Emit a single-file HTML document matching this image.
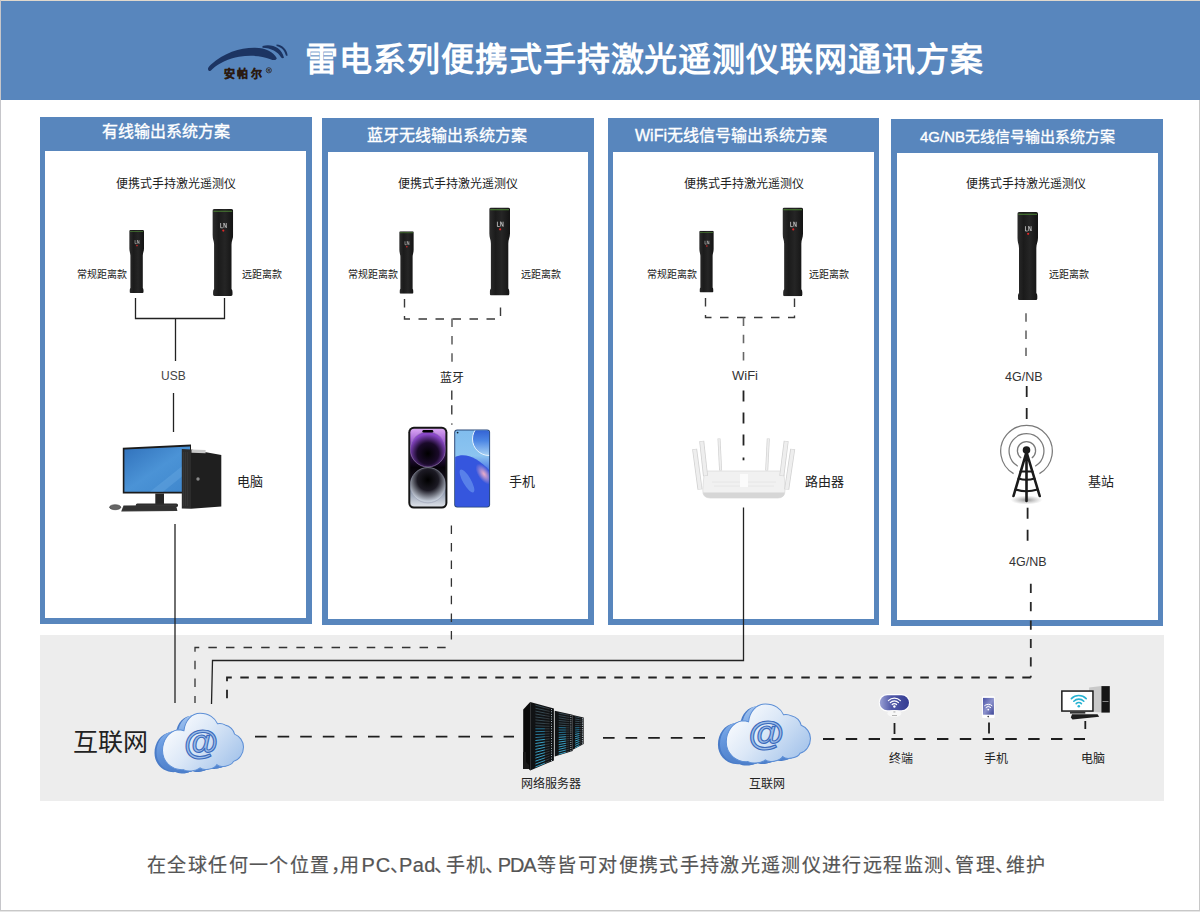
<!DOCTYPE html>
<html lang="zh-CN">
<head>
<meta charset="utf-8">
<style>
html,body{margin:0;padding:0;}
body{width:1200px;height:912px;position:relative;overflow:hidden;background:#fff;font-family:"Liberation Sans",sans-serif;}
.abs{position:absolute;}
#frl{position:absolute;left:0;top:0;width:1px;height:912px;background:#c6c6ca;}
#frt{position:absolute;left:1px;top:0;width:1199px;height:1px;background:#e0d8cc;}
#frr{position:absolute;left:1199px;top:100px;width:1px;height:812px;background:#c8c8c8;}
#frb{position:absolute;left:0;top:910px;width:1200px;height:1px;background:#c8c8c8;}
#frb2{position:absolute;left:0;top:911px;width:1200px;height:1px;background:#e6e6e6;}
#hdr{position:absolute;left:1px;top:1px;width:1199px;height:99px;background:#5886bd;}
#title{position:absolute;left:305px;top:37.5px;font-family:"Liberation Serif",serif;font-weight:bold;font-size:33px;letter-spacing:0.95px;color:#fff;white-space:nowrap;line-height:44px;}
.panel{position:absolute;background:#5886bd;}
.panel .in{position:absolute;background:#fff;}
.ph{position:absolute;color:#fff;font-size:16px;font-weight:normal;-webkit-text-stroke:0.35px #fff;white-space:nowrap;line-height:20px;}
.ph .nb{font-size:15px;letter-spacing:0;}
.t12{position:absolute;font-size:12px;color:#222;white-space:nowrap;line-height:14px;}
.t10{position:absolute;font-size:10px;color:#222;white-space:nowrap;line-height:12px;}
.t13{position:absolute;font-size:13px;color:#222;white-space:nowrap;line-height:16px;}
#band{position:absolute;left:40px;top:635px;width:1124px;height:166px;background:#ededed;}
.ft{position:absolute;top:853px;font-size:19px;letter-spacing:1.36px;color:#555;white-space:nowrap;line-height:26px;-webkit-text-stroke:0.2px #555;}
svg.ov{position:absolute;left:0;top:0;}
</style>
</head>
<body>
<div id="frl"></div><div id="frt"></div><div id="frr"></div><div id="frb"></div><div id="frb2"></div>
<div id="hdr"></div>
<div id="title">雷电系列便携式手持激光遥测仪联网通讯方案</div>

<div class="panel" style="left:40px;top:117px;width:272px;height:507px;"><div class="in" style="left:5px;top:34px;width:261px;height:467px;"></div></div>
<div class="panel" style="left:322px;top:118px;width:272px;height:507px;"><div class="in" style="left:6px;top:34px;width:260px;height:467px;"></div></div>
<div class="panel" style="left:608px;top:118px;width:271px;height:507px;"><div class="in" style="left:5px;top:34px;width:261px;height:467px;"></div></div>
<div class="panel" style="left:891px;top:119px;width:272px;height:507px;"><div class="in" style="left:6px;top:34px;width:261px;height:467px;"></div></div>

<div class="ph" style="left:102px;top:121.5px;">有线输出系统方案</div>
<div class="ph" style="left:367px;top:126px;">蓝牙无线输出系统方案</div>
<div class="ph" style="left:635px;top:126px;">WiFi无线信号输出系统方案</div>
<div class="ph" style="left:920px;top:127px;font-size:15px;"><span class="nb">4G/NB</span>无线信号输出系统方案</div>
<div id="band"></div>


<div class="t12" style="left:116px;top:176.5px;">便携式手持激光遥测仪</div>
<div class="t12" style="left:398px;top:176.5px;">便携式手持激光遥测仪</div>
<div class="t12" style="left:684px;top:176.5px;">便携式手持激光遥测仪</div>
<div class="t12" style="left:966px;top:176.5px;">便携式手持激光遥测仪</div>

<div class="t10" style="left:77px;top:268.5px;">常规距离款</div>
<div class="t10" style="left:242px;top:268.5px;">远距离款</div>
<div class="t10" style="left:348px;top:268.5px;">常规距离款</div>
<div class="t10" style="left:521px;top:268.5px;">远距离款</div>
<div class="t10" style="left:647px;top:268.5px;">常规距离款</div>
<div class="t10" style="left:809px;top:268.5px;">远距离款</div>
<div class="t10" style="left:1049px;top:268.5px;">远距离款</div>

<div class="t12" style="left:161px;top:369px;color:#444;">USB</div>
<div class="t12" style="left:440px;top:370.5px;">蓝牙</div>
<div class="t12" style="left:732px;top:369px;color:#333;font-size:13px;">WiFi</div>
<div class="t12" style="left:1005px;top:370px;color:#333;font-size:12.5px;">4G/NB</div>
<div class="t12" style="left:1009px;top:555px;color:#333;font-size:12.5px;">4G/NB</div>

<div class="t13" style="left:237px;top:474px;">电脑</div>
<div class="t13" style="left:509px;top:474px;">手机</div>
<div class="t13" style="left:805px;top:474px;">路由器</div>
<div class="t13" style="left:1088px;top:474px;">基站</div>

<div class="abs" style="left:73px;top:727px;font-size:25px;color:#222;line-height:30px;">互联网</div>
<div class="t12" style="left:521px;top:776.5px;">网络服务器</div>
<div class="t12" style="left:749px;top:776.5px;">互联网</div>
<div class="t12" style="left:889px;top:752px;">终端</div>
<div class="t12" style="left:984px;top:752px;">手机</div>
<div class="t12" style="left:1081px;top:752px;">电脑</div>

<svg class="ov" width="1200" height="912" viewBox="0 0 1200 912">

<defs>
<linearGradient id="flg" x1="0" x2="1" y1="0" y2="0">
<stop offset="0" stop-color="#2c2c2c"/><stop offset="0.3" stop-color="#1b1b1b"/><stop offset="0.6" stop-color="#252525"/><stop offset="1" stop-color="#131313"/>
</linearGradient>
<symbol id="fl" viewBox="0 0 21 88" preserveAspectRatio="none">
<path d="M1.8 0H19.2Q21 0 21 1.8V26C21 30 19.3 32 19.3 36V81Q20.3 82 20.3 84V86.5Q20.3 88 18.8 88H2.2Q0.7 88 0.7 86.5V84Q0.7 82 1.7 81V36C1.7 32 0 30 0 26V1.8Q0 0 1.8 0Z" fill="url(#flg)"/>
<rect x="1" y="1.8" width="19" height="0.9" fill="#4f8a35"/>
<path d="M8.3 14.2V19H10.6M11.6 19V14.2L14 19V14.2" stroke="#d8d8d8" stroke-width="0.75" fill="none"/>
<circle cx="11" cy="21.8" r="1.1" fill="#e02828"/>
</symbol>
<linearGradient id="scr" x1="0" y1="0" x2="1" y2="1">
<stop offset="0" stop-color="#3172bc"/><stop offset="0.5" stop-color="#4b93d6"/><stop offset="1" stop-color="#3e86cc"/>
</linearGradient>
<linearGradient id="iph" x1="0" y1="0" x2="0" y2="1">
<stop offset="0" stop-color="#d9a6f2"/><stop offset="0.18" stop-color="#9b55d2"/><stop offset="0.36" stop-color="#2a0d44"/><stop offset="0.5" stop-color="#050208"/><stop offset="0.64" stop-color="#15101c"/><stop offset="0.8" stop-color="#8a96aa"/><stop offset="1" stop-color="#dde1e8"/>
</linearGradient>
<linearGradient id="oppo" x1="0" y1="0" x2="0" y2="1">
<stop offset="0" stop-color="#80bdee"/><stop offset="0.33" stop-color="#8cc4f0"/><stop offset="0.5" stop-color="#4f7ce6"/><stop offset="1" stop-color="#2a4ad2"/>
</linearGradient>
<linearGradient id="moon" x1="0" y1="0" x2="0" y2="1">
<stop offset="0" stop-color="#2248c8"/><stop offset="0.55" stop-color="#4c86e4"/><stop offset="1" stop-color="#a8d2f4"/>
</linearGradient>
<radialGradient id="iup" cx="0.5" cy="0.62" r="0.55">
<stop offset="0" stop-color="#000"/><stop offset="0.55" stop-color="#1a0a2a"/><stop offset="1" stop-color="#8a48c8"/>
</radialGradient>
<radialGradient id="ilo" cx="0.5" cy="0.35" r="0.6">
<stop offset="0" stop-color="#000"/><stop offset="0.5" stop-color="#1c1a24"/><stop offset="1" stop-color="#c4ccd8"/>
</radialGradient>
<radialGradient id="pink" cx="0.5" cy="0.5" r="0.5">
<stop offset="0" stop-color="#f6b2c8" stop-opacity="0.95"/><stop offset="1" stop-color="#f6b2c8" stop-opacity="0"/>
</radialGradient>
<radialGradient id="shad" cx="0.5" cy="0.5" r="0.5">
<stop offset="0" stop-color="#777" stop-opacity="0.8"/><stop offset="1" stop-color="#999" stop-opacity="0"/>
</radialGradient>
<linearGradient id="cfront" gradientUnits="userSpaceOnUse" x1="15" y1="5" x2="80" y2="62">
<stop offset="0" stop-color="#ffffff"/><stop offset="0.45" stop-color="#dce8f7"/><stop offset="1" stop-color="#a2c2ea"/>
</linearGradient>
<linearGradient id="cback" gradientUnits="userSpaceOnUse" x1="0" y1="0" x2="0" y2="64">
<stop offset="0" stop-color="#a8c8f0"/><stop offset="0.5" stop-color="#6d9ee2"/><stop offset="1" stop-color="#4a7cc8"/>
</linearGradient>
<symbol id="cloud" viewBox="0 0 90 64" preserveAspectRatio="none">
<path id="cpath" d="M8.6 40.5C8.6 30 15 21 24 19.5C26 19.5 28 19.8 30 20.5C31 10 38 3 46.1 3C55 3 61 8 63.5 13.5C66 13 69 13.5 71 14.7C76 16 79.5 20 80.5 24C85.5 26 89.4 31 89.4 37C89.4 44 85 50 79.4 51.4C77.5 56 66 58.5 62.8 54.7C60 59.5 49 61 46.1 58C42 61.5 33 62 29.4 59.7C18 60.5 8.6 52 8.6 40.5Z" transform="translate(-8 2.5)" fill="#4a7cc8"/>
<path d="M8.6 40.5C8.6 30 15 21 24 19.5C26 19.5 28 19.8 30 20.5C31 10 38 3 46.1 3C55 3 61 8 63.5 13.5C66 13 69 13.5 71 14.7C76 16 79.5 20 80.5 24C85.5 26 89.4 31 89.4 37C89.4 44 85 50 79.4 51.4C77.5 56 66 58.5 62.8 54.7C60 59.5 49 61 46.1 58C42 61.5 33 62 29.4 59.7C18 60.5 8.6 52 8.6 40.5Z" transform="translate(-6 1.9)" fill="url(#cback)"/>
<path d="M8.6 40.5C8.6 30 15 21 24 19.5C26 19.5 28 19.8 30 20.5C31 10 38 3 46.1 3C55 3 61 8 63.5 13.5C66 13 69 13.5 71 14.7C76 16 79.5 20 80.5 24C85.5 26 89.4 31 89.4 37C89.4 44 85 50 79.4 51.4C77.5 56 66 58.5 62.8 54.7C60 59.5 49 61 46.1 58C42 61.5 33 62 29.4 59.7C18 60.5 8.6 52 8.6 40.5Z" transform="translate(-4 1.2)" fill="url(#cback)"/>
<path d="M8.6 40.5C8.6 30 15 21 24 19.5C26 19.5 28 19.8 30 20.5C31 10 38 3 46.1 3C55 3 61 8 63.5 13.5C66 13 69 13.5 71 14.7C76 16 79.5 20 80.5 24C85.5 26 89.4 31 89.4 37C89.4 44 85 50 79.4 51.4C77.5 56 66 58.5 62.8 54.7C60 59.5 49 61 46.1 58C42 61.5 33 62 29.4 59.7C18 60.5 8.6 52 8.6 40.5Z" transform="translate(-2 0.6)" fill="url(#cback)"/>
<path d="M8.6 40.5C8.6 30 15 21 24 19.5C26 19.5 28 19.8 30 20.5C31 10 38 3 46.1 3C55 3 61 8 63.5 13.5C66 13 69 13.5 71 14.7C76 16 79.5 20 80.5 24C85.5 26 89.4 31 89.4 37C89.4 44 85 50 79.4 51.4C77.5 56 66 58.5 62.8 54.7C60 59.5 49 61 46.1 58C42 61.5 33 62 29.4 59.7C18 60.5 8.6 52 8.6 40.5Z" fill="url(#cfront)" stroke="#5d8fd6" stroke-width="1"/>
<text x="47" y="43.5" text-anchor="middle" font-family="Liberation Sans" font-size="35" font-weight="bold" fill="#9dbde8" stroke="#3a6abc" stroke-width="1.1">@</text>
</symbol>
<linearGradient id="tpill" x1="0" y1="0" x2="1" y2="0">
<stop offset="0" stop-color="#9aa0d4"/><stop offset="0.4" stop-color="#5058a8"/><stop offset="1" stop-color="#343c92"/>
</linearGradient>
<linearGradient id="tphone" x1="0" y1="0" x2="1" y2="1">
<stop offset="0" stop-color="#4a52a4"/><stop offset="0.5" stop-color="#8c92cc"/><stop offset="1" stop-color="#3c4496"/>
</linearGradient>
</defs>


<g fill="#1c3462">
<path d="M209 71 C207 69.5 208 67 211 64.5 C224 53 240 47.6 255 47.8 C266 48 273.5 52 276.8 58.2 C276 60.6 273.5 60.4 270.5 59.2 C261 55.6 250 55 239 56.8 C229 58.6 219 63 212.5 69 C211.4 70.4 210.2 71.2 209 71Z"/>
<path d="M262.5 46 C272 43.6 281.5 47.5 284 57.8 C283 58.4 282 58.2 281.2 57.6 C278 51.5 271 48.2 262.5 47.8Z"/>
<path d="M276.5 44.4 C282.5 44.8 287 49.5 287.6 55.4 C287 56 286.2 55.8 285.8 55.2 C284.5 50.2 281 47 276.5 46Z"/>
</g>
<text x="224" y="77.6" font-family="Liberation Sans" font-size="11" font-weight="bold" fill="#2a1a12" stroke="#2a1a12" stroke-width="0.35" letter-spacing="2.4">安帕尔</text>
<circle cx="268.8" cy="70.3" r="2.6" fill="none" stroke="#2a1a12" stroke-width="0.7"/>
<text x="267.4" y="72" font-family="Liberation Sans" font-size="4" font-weight="bold" fill="#2a1a12">R</text>


<g fill="none" stroke="#222" stroke-width="1.3">
<path d="M135.5 298V318.5H224.5V298M175.5 318.5V361"/>
<path d="M173.5 393V432"/>
<path d="M175 524V703"/>
<path d="M743.5 507.5V660.5H212.5L211.5 704"/>
</g>
<g fill="none" stroke="#3a3a3a" stroke-width="1.4" stroke-dasharray="8.5 8.5">
<path d="M404.5 299V319H500.5V299"/>
<path d="M705.5 298V317.5H794.5V298"/>
</g>
<g fill="none" stroke="#666" stroke-width="1.6" stroke-dasharray="8.5 8.8">
<path d="M452 318.6V362"/>
<path d="M743.5 317.5V361"/>
<path d="M1026 313.2V356"/>
</g>
<g fill="none" stroke="#2a2a2a" stroke-width="1.3" stroke-dasharray="9.3 5.6">
<path d="M451.8 390.4V416"/>
</g>
<rect x="451.2" y="423.4" width="1.3" height="1.3" fill="#333"/>
<g fill="none" stroke="#222" stroke-width="1.8" stroke-dasharray="11 11">
<path d="M743.5 390.4V447"/>
<path d="M1026.7 386V420"/>
<path d="M1027.6 507.7V542"/>
</g>
<rect x="742.6" y="457.5" width="1.8" height="2.8" fill="#222"/>
<g fill="none" stroke="#2a2a2a" stroke-width="1.8" stroke-dasharray="9.2 9.2">
<path d="M1030.8 583.7V677.5"/>
</g>
<g fill="none" stroke="#333" stroke-width="1.3" stroke-dasharray="8.5 9.1">
<path d="M451.4 525.4V647.5"/>
<path d="M451.4 647.5H195V703" stroke-dashoffset="11.85"/>
</g>
<g fill="none" stroke="#222" stroke-width="1.8" stroke-dasharray="8.5 8.5">
<path d="M1030.8 677.5H227V705"/>
</g>
<g fill="none" stroke="#1e1e1e" stroke-width="1.8" stroke-dasharray="11.6 11">
<path d="M255 736.7H514"/>
<path d="M603 737.8H706"/>
<path d="M823 739H1085" stroke-dasharray="11.4 11.4"/>
</g>
<g fill="none" stroke="#1e1e1e" stroke-width="1.8">
<path d="M894.5 723V734M989 722.5V733.5M1085.3 721V729"/>
</g>

<use href="#fl" x="129.2" y="230" width="14.8" height="63.0"/>
<use href="#fl" x="212.4" y="209" width="20.8" height="87.0"/>
<use href="#fl" x="399.2" y="231.2" width="14.6" height="62.6"/>
<use href="#fl" x="489.2" y="207.5" width="20.8" height="88.0"/>
<use href="#fl" x="699.2" y="230.8" width="14.6" height="61.7"/>
<use href="#fl" x="782.5" y="207.5" width="20.5" height="88.7"/>
<use href="#fl" x="1017.3" y="212" width="20.7" height="88.0"/>

<g>
<polygon points="122.8,447.8 191,444.4 191,493.5 122.8,493.5" fill="#1b1b1b"/>
<polygon points="124.4,449.6 190,446.6 190,491.8 124.4,491.8" fill="url(#scr)"/>
<polygon points="150,491.8 190,460 190,470 163,491.8" fill="#6fb0e6" opacity="0.35"/>
<rect x="155.3" y="493.5" width="8.7" height="11" fill="#262626"/>
<rect x="135.8" y="503.4" width="42.2" height="3.6" rx="1.6" fill="#2e2e2e"/>
<polygon points="123.5,505.4 176,505 177.4,511 121.2,511.4" fill="#383838"/>
<path d="M124 507H176M123.4 509H176.6" stroke="#222" stroke-width="0.6"/>
<ellipse cx="115.2" cy="507.2" rx="5.6" ry="2.5" fill="#666" stroke="#3a3a3a" stroke-width="0.6"/>
<polygon points="181.8,449 191,449.5 191,508.8 181.8,508.6" fill="#2c2c2c"/>
<path d="M183.6 452V506M185.6 452V506M187.6 452V506" stroke="#3e3e3e" stroke-width="0.6"/>
<polygon points="191,449.5 221.3,455 221.3,506.5 191,508.8" fill="#1f1f1f"/>
<polygon points="191.5,449.5 205.6,450 205.6,453.2 191.5,452.8" fill="#c8c8c8"/>
<circle cx="198" cy="479" r="1.7" fill="#8a8a8a"/>
</g>

<g>
<rect x="408.3" y="426.8" width="39.1" height="81.7" rx="5.5" fill="#151515"/>
<rect x="410.3" y="428.8" width="35.1" height="77.7" rx="3.8" fill="url(#iph)"/>
<clipPath id="ipc"><rect x="410.3" y="428.8" width="35.1" height="77.7" rx="3.8"/></clipPath>
<g clip-path="url(#ipc)">
<circle cx="427.9" cy="449.3" r="17.7" fill="url(#iup)" stroke="#9a86b0" stroke-width="0.6"/>
<circle cx="427.9" cy="485.2" r="17.7" fill="url(#ilo)" stroke="#9aa0b4" stroke-width="0.6"/>
</g>
<rect x="422.4" y="429.9" width="10.9" height="2.7" rx="1.3" fill="#000"/>
<rect x="454.2" y="429.4" width="35.9" height="78.1" rx="3" fill="#2a4878"/>
<clipPath id="opc"><rect x="455.2" y="430.4" width="33.9" height="76.1" rx="2.2"/></clipPath>
<g clip-path="url(#opc)">
<rect x="455" y="430" width="35" height="78" fill="url(#oppo)"/>
<circle cx="489" cy="439" r="16.5" fill="url(#moon)" stroke="#e6f2fc" stroke-width="1"/>
<path d="M455 457 C466 452 478 458 491 472 V508 H455Z" fill="#3556de"/>
<ellipse cx="467" cy="481" rx="4" ry="13" transform="rotate(-30 467 481)" fill="#74a4f2" opacity="0.55"/>
<ellipse cx="484" cy="474" rx="6" ry="12" transform="rotate(-35 484 474)" fill="url(#pink)"/>
</g>
<circle cx="457.6" cy="432.6" r="0.9" fill="#123"/>
</g>

<g stroke-linecap="butt">
<path d="M707.6 471 H780.8 Q784 471 784.6 480 L785 490 Q785 498 778 498 H710 Q702.5 498 702.8 490 L703.5 480 Q704 471 707.6 471Z" fill="#f1f1f1" stroke="#dddddd" stroke-width="0.8"/>
<path d="M703 492.6 Q703.5 498 710 498 H778 Q784.5 498 784.8 492.6 Z" fill="#d6d6d6"/>
<path d="M712 482 H776 M714 486 H774" stroke="#e4e4e4" stroke-width="0.8"/>
<rect x="740" y="474" width="8" height="13" fill="#fbfbfb"/>
<g stroke="#d2d2d2">
<line x1="694.6" y1="449" x2="700" y2="489.5" stroke-width="5"/><line x1="701.7" y1="441" x2="705.5" y2="476" stroke-width="5"/><line x1="719" y1="438.5" x2="720.6" y2="470.5" stroke-width="3"/>
<line x1="768.3" y1="438.5" x2="766.7" y2="470.5" stroke-width="3"/><line x1="786.2" y1="441" x2="781.8" y2="476" stroke-width="5"/><line x1="792.7" y1="449" x2="786.7" y2="489.5" stroke-width="5"/>
</g>
<g stroke="#eeeeee">
<line x1="694.6" y1="449.5" x2="700" y2="489" stroke-width="3.4"/><line x1="701.7" y1="441.5" x2="705.5" y2="475.5" stroke-width="3.4"/><line x1="719" y1="439" x2="720.6" y2="470" stroke-width="1.6"/>
<line x1="768.3" y1="439" x2="766.7" y2="470" stroke-width="1.6"/><line x1="786.2" y1="441.5" x2="781.8" y2="475.5" stroke-width="3.4"/><line x1="792.7" y1="449.5" x2="786.7" y2="489" stroke-width="3.4"/>
</g>
</g>

<g>
<ellipse cx="1026.5" cy="500" rx="16" ry="4.5" fill="url(#shad)"/>
<g fill="none" stroke="#7a7a7a" stroke-width="1.25">
<path d="M1013.6 473.6 A25.8 25.8 0 1 1 1039.4 473.6"/>
<path d="M1017.8 466.2 A17.4 17.4 0 1 1 1035.2 466.2"/>
<path d="M1021.2 458 A9.1 9.1 0 1 1 1031.8 458"/>
</g>
<g stroke="#1a1a1a" stroke-width="2.6" stroke-linecap="round" fill="none">
<path d="M1026.5 452 L1013.5 496 M1026.5 452 L1039.7 496 M1026.5 452 V501"/>
<path d="M1020.5 471.5 H1032.5 M1018.5 478.5 Q1026.5 481 1034.5 478.5 M1015.5 489.5 Q1026.5 493 1037.5 489.5" stroke-width="2"/>
</g>
<circle cx="1026.5" cy="450" r="3.8" fill="#1a1a1a"/>
</g>
<use href="#cloud" x="153.9" y="710.3" width="90.2" height="63.6"/>
<use href="#cloud" x="717.3" y="700.9" width="93.8" height="65.1"/>
<g>
<polygon points="523.2,709.5 530.2,702 530.2,770.4 523.2,763" fill="#0b0b0b"/>
<polygon points="530.2,702 553.9,708.6 553.9,760.4 530.2,770.4" fill="#101214"/>
<line x1="535.4" y1="705.2" x2="544.9" y2="707.7" stroke="#3a4e58" stroke-width="1" opacity="0.9"/>
<line x1="544.9" y1="707.7" x2="549.6" y2="708.9" stroke="#3c4448" stroke-width="0.8"/>
<circle cx="551.5" cy="709.4" r="0.5" fill="#d8e8f0"/>
<line x1="535.4" y1="708.2" x2="544.9" y2="710.3" stroke="#3a4e58" stroke-width="1" opacity="0.9"/>
<line x1="544.9" y1="710.3" x2="549.6" y2="711.4" stroke="#3c4448" stroke-width="0.8"/>
<circle cx="551.5" cy="711.8" r="0.5" fill="#d8e8f0"/>
<line x1="535.4" y1="711.1" x2="544.9" y2="713.0" stroke="#3a4e58" stroke-width="1" opacity="0.9"/>
<line x1="544.9" y1="713.0" x2="549.6" y2="713.9" stroke="#3c4448" stroke-width="0.8"/>
<circle cx="551.5" cy="714.3" r="0.5" fill="#d8e8f0"/>
<line x1="535.4" y1="714.0" x2="544.9" y2="715.6" stroke="#3a4e58" stroke-width="1" opacity="0.9"/>
<line x1="544.9" y1="715.6" x2="549.6" y2="716.4" stroke="#3c4448" stroke-width="0.8"/>
<circle cx="551.5" cy="716.7" r="0.5" fill="#d8e8f0"/>
<line x1="535.4" y1="717.0" x2="544.9" y2="718.2" stroke="#3a4e58" stroke-width="1" opacity="0.9"/>
<line x1="544.9" y1="718.2" x2="549.6" y2="718.9" stroke="#3c4448" stroke-width="0.8"/>
<circle cx="551.5" cy="719.1" r="0.5" fill="#d8e8f0"/>
<line x1="535.4" y1="719.9" x2="544.9" y2="720.9" stroke="#3a4e58" stroke-width="1" opacity="0.9"/>
<line x1="544.9" y1="720.9" x2="549.6" y2="721.4" stroke="#3c4448" stroke-width="0.8"/>
<circle cx="551.5" cy="721.5" r="0.5" fill="#d8e8f0"/>
<line x1="535.4" y1="722.9" x2="544.9" y2="723.5" stroke="#3a4e58" stroke-width="1" opacity="0.9"/>
<line x1="544.9" y1="723.5" x2="549.6" y2="723.8" stroke="#3c4448" stroke-width="0.8"/>
<circle cx="551.5" cy="724.0" r="0.5" fill="#d8e8f0"/>
<line x1="535.4" y1="725.8" x2="544.9" y2="726.2" stroke="#3a4e58" stroke-width="1" opacity="0.9"/>
<line x1="544.9" y1="726.2" x2="549.6" y2="726.3" stroke="#3c4448" stroke-width="0.8"/>
<circle cx="551.5" cy="726.4" r="0.5" fill="#d8e8f0"/>
<line x1="535.4" y1="728.8" x2="544.9" y2="728.8" stroke="#2a7ea0" stroke-width="1" opacity="0.9"/>
<line x1="544.9" y1="728.8" x2="549.6" y2="728.8" stroke="#3c4448" stroke-width="0.8"/>
<circle cx="551.5" cy="728.8" r="0.5" fill="#d8e8f0"/>
<line x1="535.4" y1="731.7" x2="544.9" y2="731.4" stroke="#2a7ea0" stroke-width="1" opacity="0.9"/>
<line x1="544.9" y1="731.4" x2="549.6" y2="731.3" stroke="#3c4448" stroke-width="0.8"/>
<circle cx="551.5" cy="731.3" r="0.5" fill="#d8e8f0"/>
<line x1="535.4" y1="734.6" x2="544.9" y2="734.1" stroke="#2a7ea0" stroke-width="1" opacity="0.9"/>
<line x1="544.9" y1="734.1" x2="549.6" y2="733.8" stroke="#3c4448" stroke-width="0.8"/>
<circle cx="551.5" cy="733.7" r="0.5" fill="#d8e8f0"/>
<line x1="535.4" y1="737.6" x2="544.9" y2="736.7" stroke="#2a7ea0" stroke-width="1" opacity="0.9"/>
<line x1="544.9" y1="736.7" x2="549.6" y2="736.3" stroke="#3c4448" stroke-width="0.8"/>
<circle cx="551.5" cy="736.1" r="0.5" fill="#d8e8f0"/>
<line x1="535.4" y1="740.5" x2="544.9" y2="739.4" stroke="#3fb0d8" stroke-width="1" opacity="0.9"/>
<line x1="544.9" y1="739.4" x2="549.6" y2="738.8" stroke="#3c4448" stroke-width="0.8"/>
<circle cx="551.5" cy="738.6" r="0.5" fill="#d8e8f0"/>
<line x1="535.4" y1="743.5" x2="544.9" y2="742.0" stroke="#3fb0d8" stroke-width="1" opacity="0.9"/>
<line x1="544.9" y1="742.0" x2="549.6" y2="741.3" stroke="#3c4448" stroke-width="0.8"/>
<circle cx="551.5" cy="741.0" r="0.5" fill="#d8e8f0"/>
<line x1="535.4" y1="746.4" x2="544.9" y2="744.7" stroke="#3fb0d8" stroke-width="1" opacity="0.9"/>
<line x1="544.9" y1="744.7" x2="549.6" y2="743.8" stroke="#3c4448" stroke-width="0.8"/>
<circle cx="551.5" cy="743.4" r="0.5" fill="#d8e8f0"/>
<line x1="535.4" y1="749.4" x2="544.9" y2="747.3" stroke="#3fb0d8" stroke-width="1" opacity="0.9"/>
<line x1="544.9" y1="747.3" x2="549.6" y2="746.3" stroke="#3c4448" stroke-width="0.8"/>
<circle cx="551.5" cy="745.8" r="0.5" fill="#d8e8f0"/>
<line x1="535.4" y1="752.3" x2="544.9" y2="749.9" stroke="#3fb0d8" stroke-width="1" opacity="0.9"/>
<line x1="544.9" y1="749.9" x2="549.6" y2="748.8" stroke="#3c4448" stroke-width="0.8"/>
<circle cx="551.5" cy="748.3" r="0.5" fill="#d8e8f0"/>
<line x1="535.4" y1="755.3" x2="544.9" y2="752.6" stroke="#3fb0d8" stroke-width="1" opacity="0.9"/>
<line x1="544.9" y1="752.6" x2="549.6" y2="751.2" stroke="#3c4448" stroke-width="0.8"/>
<circle cx="551.5" cy="750.7" r="0.5" fill="#d8e8f0"/>
<line x1="535.4" y1="758.2" x2="544.9" y2="755.2" stroke="#3fb0d8" stroke-width="1" opacity="0.9"/>
<line x1="544.9" y1="755.2" x2="549.6" y2="753.7" stroke="#3c4448" stroke-width="0.8"/>
<circle cx="551.5" cy="753.1" r="0.5" fill="#d8e8f0"/>
<line x1="535.4" y1="761.1" x2="544.9" y2="757.9" stroke="#3fb0d8" stroke-width="1" opacity="0.9"/>
<line x1="544.9" y1="757.9" x2="549.6" y2="756.2" stroke="#3c4448" stroke-width="0.8"/>
<circle cx="551.5" cy="755.6" r="0.5" fill="#d8e8f0"/>
<line x1="535.4" y1="764.1" x2="544.9" y2="760.5" stroke="#3fb0d8" stroke-width="1" opacity="0.9"/>
<line x1="544.9" y1="760.5" x2="549.6" y2="758.7" stroke="#3c4448" stroke-width="0.8"/>
<circle cx="551.5" cy="758.0" r="0.5" fill="#d8e8f0"/>
<line x1="535.4" y1="767.0" x2="544.9" y2="763.1" stroke="#3fb0d8" stroke-width="1" opacity="0.9"/>
<line x1="544.9" y1="763.1" x2="549.6" y2="761.2" stroke="#3c4448" stroke-width="0.8"/>
<circle cx="551.5" cy="760.4" r="0.5" fill="#d8e8f0"/>
<polygon points="554.7,710.8 572.7,714.7 572.7,751 554.7,756.4" fill="#101214"/>
<line x1="558.7" y1="713.1" x2="565.9" y2="714.5" stroke="#3a4e58" stroke-width="1" opacity="0.9"/>
<line x1="565.9" y1="714.5" x2="569.5" y2="715.3" stroke="#3c4448" stroke-width="0.8"/>
<circle cx="570.9" cy="715.6" r="0.5" fill="#d8e8f0"/>
<line x1="558.7" y1="715.5" x2="565.9" y2="716.8" stroke="#3a4e58" stroke-width="1" opacity="0.9"/>
<line x1="565.9" y1="716.8" x2="569.5" y2="717.4" stroke="#3c4448" stroke-width="0.8"/>
<circle cx="570.9" cy="717.6" r="0.5" fill="#d8e8f0"/>
<line x1="558.7" y1="717.9" x2="565.9" y2="719.0" stroke="#3a4e58" stroke-width="1" opacity="0.9"/>
<line x1="565.9" y1="719.0" x2="569.5" y2="719.5" stroke="#3c4448" stroke-width="0.8"/>
<circle cx="570.9" cy="719.7" r="0.5" fill="#d8e8f0"/>
<line x1="558.7" y1="720.4" x2="565.9" y2="721.2" stroke="#3a4e58" stroke-width="1" opacity="0.9"/>
<line x1="565.9" y1="721.2" x2="569.5" y2="721.6" stroke="#3c4448" stroke-width="0.8"/>
<circle cx="570.9" cy="721.8" r="0.5" fill="#d8e8f0"/>
<line x1="558.7" y1="722.8" x2="565.9" y2="723.4" stroke="#3a4e58" stroke-width="1" opacity="0.9"/>
<line x1="565.9" y1="723.4" x2="569.5" y2="723.7" stroke="#3c4448" stroke-width="0.8"/>
<circle cx="570.9" cy="723.8" r="0.5" fill="#d8e8f0"/>
<line x1="558.7" y1="725.2" x2="565.9" y2="725.6" stroke="#3a4e58" stroke-width="1" opacity="0.9"/>
<line x1="565.9" y1="725.6" x2="569.5" y2="725.8" stroke="#3c4448" stroke-width="0.8"/>
<circle cx="570.9" cy="725.9" r="0.5" fill="#d8e8f0"/>
<line x1="558.7" y1="727.6" x2="565.9" y2="727.8" stroke="#2a7ea0" stroke-width="1" opacity="0.9"/>
<line x1="565.9" y1="727.8" x2="569.5" y2="727.9" stroke="#3c4448" stroke-width="0.8"/>
<circle cx="570.9" cy="728.0" r="0.5" fill="#d8e8f0"/>
<line x1="558.7" y1="730.0" x2="565.9" y2="730.0" stroke="#2a7ea0" stroke-width="1" opacity="0.9"/>
<line x1="565.9" y1="730.0" x2="569.5" y2="730.0" stroke="#3c4448" stroke-width="0.8"/>
<circle cx="570.9" cy="730.0" r="0.5" fill="#d8e8f0"/>
<line x1="558.7" y1="732.5" x2="565.9" y2="732.2" stroke="#2a7ea0" stroke-width="1" opacity="0.9"/>
<line x1="565.9" y1="732.2" x2="569.5" y2="732.1" stroke="#3c4448" stroke-width="0.8"/>
<circle cx="570.9" cy="732.1" r="0.5" fill="#d8e8f0"/>
<line x1="558.7" y1="734.9" x2="565.9" y2="734.5" stroke="#2a7ea0" stroke-width="1" opacity="0.9"/>
<line x1="565.9" y1="734.5" x2="569.5" y2="734.3" stroke="#3c4448" stroke-width="0.8"/>
<circle cx="570.9" cy="734.2" r="0.5" fill="#d8e8f0"/>
<line x1="558.7" y1="737.3" x2="565.9" y2="736.7" stroke="#3fb0d8" stroke-width="1" opacity="0.9"/>
<line x1="565.9" y1="736.7" x2="569.5" y2="736.4" stroke="#3c4448" stroke-width="0.8"/>
<circle cx="570.9" cy="736.2" r="0.5" fill="#d8e8f0"/>
<line x1="558.7" y1="739.7" x2="565.9" y2="738.9" stroke="#3fb0d8" stroke-width="1" opacity="0.9"/>
<line x1="565.9" y1="738.9" x2="569.5" y2="738.5" stroke="#3c4448" stroke-width="0.8"/>
<circle cx="570.9" cy="738.3" r="0.5" fill="#d8e8f0"/>
<line x1="558.7" y1="742.1" x2="565.9" y2="741.1" stroke="#3fb0d8" stroke-width="1" opacity="0.9"/>
<line x1="565.9" y1="741.1" x2="569.5" y2="740.6" stroke="#3c4448" stroke-width="0.8"/>
<circle cx="570.9" cy="740.4" r="0.5" fill="#d8e8f0"/>
<line x1="558.7" y1="744.6" x2="565.9" y2="743.3" stroke="#3fb0d8" stroke-width="1" opacity="0.9"/>
<line x1="565.9" y1="743.3" x2="569.5" y2="742.7" stroke="#3c4448" stroke-width="0.8"/>
<circle cx="570.9" cy="742.4" r="0.5" fill="#d8e8f0"/>
<line x1="558.7" y1="747.0" x2="565.9" y2="745.5" stroke="#3fb0d8" stroke-width="1" opacity="0.9"/>
<line x1="565.9" y1="745.5" x2="569.5" y2="744.8" stroke="#3c4448" stroke-width="0.8"/>
<circle cx="570.9" cy="744.5" r="0.5" fill="#d8e8f0"/>
<line x1="558.7" y1="749.4" x2="565.9" y2="747.7" stroke="#3fb0d8" stroke-width="1" opacity="0.9"/>
<line x1="565.9" y1="747.7" x2="569.5" y2="746.9" stroke="#3c4448" stroke-width="0.8"/>
<circle cx="570.9" cy="746.6" r="0.5" fill="#d8e8f0"/>
<line x1="558.7" y1="751.8" x2="565.9" y2="750.0" stroke="#3fb0d8" stroke-width="1" opacity="0.9"/>
<line x1="565.9" y1="750.0" x2="569.5" y2="749.0" stroke="#3c4448" stroke-width="0.8"/>
<circle cx="570.9" cy="748.6" r="0.5" fill="#d8e8f0"/>
<line x1="558.7" y1="754.2" x2="565.9" y2="752.2" stroke="#3fb0d8" stroke-width="1" opacity="0.9"/>
<line x1="565.9" y1="752.2" x2="569.5" y2="751.1" stroke="#3c4448" stroke-width="0.8"/>
<circle cx="570.9" cy="750.7" r="0.5" fill="#d8e8f0"/>
<polygon points="572.7,715 583.7,717.4 583.7,744 572.7,749.8" fill="#101214"/>
<line x1="575.1" y1="716.8" x2="579.5" y2="717.7" stroke="#3a4e58" stroke-width="1" opacity="0.9"/>
<line x1="579.5" y1="717.7" x2="581.7" y2="718.1" stroke="#3c4448" stroke-width="0.8"/>
<circle cx="582.6" cy="718.3" r="0.5" fill="#d8e8f0"/>
<line x1="575.1" y1="719.0" x2="579.5" y2="719.7" stroke="#3a4e58" stroke-width="1" opacity="0.9"/>
<line x1="579.5" y1="719.7" x2="581.7" y2="720.0" stroke="#3c4448" stroke-width="0.8"/>
<circle cx="582.6" cy="720.1" r="0.5" fill="#d8e8f0"/>
<line x1="575.1" y1="721.2" x2="579.5" y2="721.6" stroke="#3a4e58" stroke-width="1" opacity="0.9"/>
<line x1="579.5" y1="721.6" x2="581.7" y2="721.8" stroke="#3c4448" stroke-width="0.8"/>
<circle cx="582.6" cy="721.9" r="0.5" fill="#d8e8f0"/>
<line x1="575.1" y1="723.4" x2="579.5" y2="723.6" stroke="#3a4e58" stroke-width="1" opacity="0.9"/>
<line x1="579.5" y1="723.6" x2="581.7" y2="723.7" stroke="#3c4448" stroke-width="0.8"/>
<circle cx="582.6" cy="723.7" r="0.5" fill="#d8e8f0"/>
<line x1="575.1" y1="725.6" x2="579.5" y2="725.6" stroke="#3a4e58" stroke-width="1" opacity="0.9"/>
<line x1="579.5" y1="725.6" x2="581.7" y2="725.6" stroke="#3c4448" stroke-width="0.8"/>
<circle cx="582.6" cy="725.6" r="0.5" fill="#d8e8f0"/>
<line x1="575.1" y1="727.8" x2="579.5" y2="727.6" stroke="#2a7ea0" stroke-width="1" opacity="0.9"/>
<line x1="579.5" y1="727.6" x2="581.7" y2="727.4" stroke="#3c4448" stroke-width="0.8"/>
<circle cx="582.6" cy="727.4" r="0.5" fill="#d8e8f0"/>
<line x1="575.1" y1="730.0" x2="579.5" y2="729.6" stroke="#2a7ea0" stroke-width="1" opacity="0.9"/>
<line x1="579.5" y1="729.6" x2="581.7" y2="729.3" stroke="#3c4448" stroke-width="0.8"/>
<circle cx="582.6" cy="729.2" r="0.5" fill="#d8e8f0"/>
<line x1="575.1" y1="732.2" x2="579.5" y2="731.5" stroke="#2a7ea0" stroke-width="1" opacity="0.9"/>
<line x1="579.5" y1="731.5" x2="581.7" y2="731.2" stroke="#3c4448" stroke-width="0.8"/>
<circle cx="582.6" cy="731.1" r="0.5" fill="#d8e8f0"/>
<line x1="575.1" y1="734.4" x2="579.5" y2="733.5" stroke="#3fb0d8" stroke-width="1" opacity="0.9"/>
<line x1="579.5" y1="733.5" x2="581.7" y2="733.1" stroke="#3c4448" stroke-width="0.8"/>
<circle cx="582.6" cy="732.9" r="0.5" fill="#d8e8f0"/>
<line x1="575.1" y1="736.6" x2="579.5" y2="735.5" stroke="#3fb0d8" stroke-width="1" opacity="0.9"/>
<line x1="579.5" y1="735.5" x2="581.7" y2="734.9" stroke="#3c4448" stroke-width="0.8"/>
<circle cx="582.6" cy="734.7" r="0.5" fill="#d8e8f0"/>
<line x1="575.1" y1="738.8" x2="579.5" y2="737.5" stroke="#3fb0d8" stroke-width="1" opacity="0.9"/>
<line x1="579.5" y1="737.5" x2="581.7" y2="736.8" stroke="#3c4448" stroke-width="0.8"/>
<circle cx="582.6" cy="736.5" r="0.5" fill="#d8e8f0"/>
<line x1="575.1" y1="741.0" x2="579.5" y2="739.5" stroke="#3fb0d8" stroke-width="1" opacity="0.9"/>
<line x1="579.5" y1="739.5" x2="581.7" y2="738.7" stroke="#3c4448" stroke-width="0.8"/>
<circle cx="582.6" cy="738.4" r="0.5" fill="#d8e8f0"/>
<line x1="575.1" y1="743.2" x2="579.5" y2="741.4" stroke="#3fb0d8" stroke-width="1" opacity="0.9"/>
<line x1="579.5" y1="741.4" x2="581.7" y2="740.6" stroke="#3c4448" stroke-width="0.8"/>
<circle cx="582.6" cy="740.2" r="0.5" fill="#d8e8f0"/>
<line x1="575.1" y1="745.4" x2="579.5" y2="743.4" stroke="#3fb0d8" stroke-width="1" opacity="0.9"/>
<line x1="579.5" y1="743.4" x2="581.7" y2="742.4" stroke="#3c4448" stroke-width="0.8"/>
<circle cx="582.6" cy="742.0" r="0.5" fill="#d8e8f0"/>
<line x1="575.1" y1="747.6" x2="579.5" y2="745.4" stroke="#3fb0d8" stroke-width="1" opacity="0.9"/>
<line x1="579.5" y1="745.4" x2="581.7" y2="744.3" stroke="#3c4448" stroke-width="0.8"/>
<circle cx="582.6" cy="743.8" r="0.5" fill="#d8e8f0"/>
<path d="M523 752 h3 v10 l3 3 v4 h-6 z" fill="#1a1a1a"/>
</g>

<g>
<rect x="878.7" y="694.1" width="31.4" height="17.3" rx="8.6" fill="#fff"/>
<rect x="879.8" y="695.2" width="29.2" height="15.1" rx="7.5" fill="url(#tpill)"/>
<ellipse cx="894.4" cy="713.5" rx="7" ry="3.5" fill="#f8f8f8"/>
<rect x="893.4" y="711.6" width="2" height="0.7" fill="#888"/><rect x="892" y="715.2" width="5" height="0.7" fill="#999"/>
<g fill="none" stroke="#fff" stroke-width="1.2" stroke-linecap="round">
<path d="M888.4 700.6 A8.5 8.5 0 0 1 900.4 700.6"/><path d="M890.3 702.6 A5.8 5.8 0 0 1 898.5 702.6"/><path d="M892.2 704.5 A3 3 0 0 1 896.6 704.5"/>
</g>
<circle cx="894.4" cy="706.5" r="1.2" fill="#fff"/>
<rect x="982.1" y="696.3" width="12.5" height="21.6" rx="1" fill="#fff"/>
<rect x="983" y="697.9" width="10.9" height="16.8" fill="url(#tphone)"/>
<circle cx="988.2" cy="716.6" r="0.8" fill="#333"/>
<g fill="none" stroke="#fff" stroke-width="1" stroke-linecap="round">
<path d="M984.6 705.6 A5.5 5.5 0 0 1 992 705.6"/><path d="M986 707.4 A3.2 3.2 0 0 1 990.6 707.4"/>
</g>
<circle cx="988.3" cy="709.6" r="0.9" fill="#fff"/>
</g>

<g>
<polygon points="1089.1,687.5 1101.4,686.1 1101.4,712.6 1089.1,711.4" fill="#c9c9c9"/>
<rect x="1101.4" y="686.1" width="8.4" height="26.5" fill="#161616"/>
<rect x="1102.5" y="701" width="6" height="1" fill="#888"/>
<rect x="1061.1" y="690.3" width="32.6" height="21.5" fill="#1a1a1a"/>
<rect x="1062.6" y="691.8" width="29.6" height="18.5" fill="#fff"/>
<rect x="1070" y="711.8" width="15.3" height="1.8" fill="#333"/>
<polygon points="1072,714.2 1097.5,714.2 1099.2,716.8 1072.5,719.6 1070.8,717.5" fill="#1e1e1e"/>
<g fill="none" stroke="#27b2d2" stroke-width="1.6" stroke-linecap="round">
<path d="M1071.4 698.6 A10.5 10.5 0 0 1 1086.2 698.6"/><path d="M1073.8 701.2 A7 7 0 0 1 1083.8 701.2"/><path d="M1076.2 703.6 A3.6 3.6 0 0 1 1081.4 703.6"/>
</g>
<circle cx="1078.8" cy="706.2" r="1.3" fill="#27b2d2"/>
</g>
</svg>
<div class="ft" style="left:147.10px;">在全球任何一个位置</div>
<div class="ft" style="left:330.90px;">，</div>
<div class="ft" style="left:340.25px;">用</div>
<div class="ft" style="left:361.50px;font-size:20px;letter-spacing:1px;top:852px;">PC</div>
<div class="ft" style="left:389.60px;">、</div>
<div class="ft" style="left:399.00px;font-size:20px;letter-spacing:0.4px;top:852px;">Pad</div>
<div class="ft" style="left:434.00px;">、</div>
<div class="ft" style="left:445.90px;">手机</div>
<div class="ft" style="left:485.00px;">、</div>
<div class="ft" style="left:497.75px;font-size:20px;letter-spacing:-1.1px;top:852px;">PDA</div>
<div class="ft" style="left:537.10px;">等皆可对便携式手持激光遥测仪进行远程监测</div>
<div class="ft" style="left:944.00px;">、</div>
<div class="ft" style="left:955.25px;">管理</div>
<div class="ft" style="left:995.25px;">、</div>
<div class="ft" style="left:1005.90px;">维护</div>
</body>
</html>
